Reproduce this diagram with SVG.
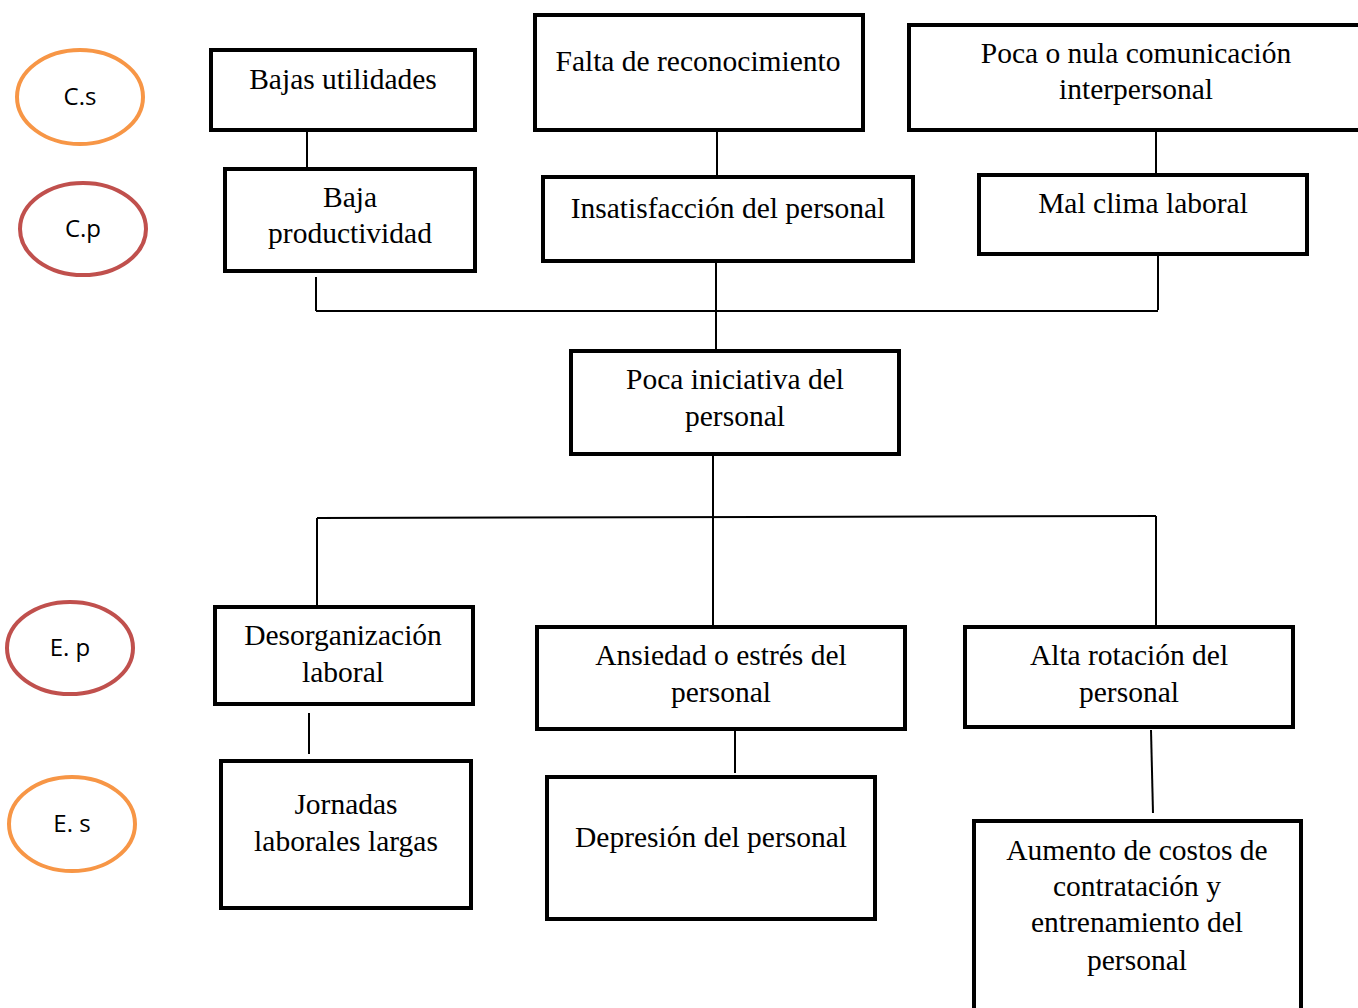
<svg xmlns="http://www.w3.org/2000/svg" width="1358" height="1008" viewBox="0 0 1358 1008">
<style>
.box{fill:#fff;stroke:#000;stroke-width:4}
.t{font-family:"Liberation Serif","Times New Roman",serif;font-size:29.5px;fill:#000;text-anchor:middle}
.lab{font-family:"Open Sans","Liberation Sans",sans-serif;font-size:24px;fill:#000;text-anchor:middle}
.or{fill:#fff;stroke:#F79646;stroke-width:4}
.rd{fill:#fff;stroke:#C0504D;stroke-width:4}
.c{stroke:#000;stroke-width:2;fill:none}
</style>
<rect width="1358" height="1008" fill="#fff"/>
<g id="connectors">
<line class="c" x1="307" y1="130" x2="307" y2="168"/>
<line class="c" x1="717" y1="130" x2="717" y2="176"/>
<line class="c" x1="1156" y1="128" x2="1156" y2="174"/>
<line class="c" x1="316" y1="277" x2="316" y2="311"/>
<line class="c" x1="1158" y1="255" x2="1158" y2="310"/>
<line class="c" x1="316" y1="311" x2="1158" y2="311"/>
<line class="c" x1="716" y1="262" x2="716" y2="350"/>
<line class="c" x1="713" y1="455" x2="713" y2="626"/>
<line class="c" x1="317" y1="518" x2="1156" y2="516"/>
<line class="c" x1="317" y1="518" x2="317" y2="606"/>
<line class="c" x1="1156" y1="516" x2="1156" y2="626"/>
<line class="c" x1="309" y1="713" x2="309" y2="754"/>
<line class="c" x1="735" y1="730" x2="735" y2="773"/>
<line class="c" x1="1151" y1="730" x2="1153" y2="813"/>
</g>
<g id="cs"><ellipse class="or" cx="80" cy="97" rx="63" ry="47"/><text class="lab" x="80" y="105">C.s</text></g>
<g id="cp"><ellipse class="rd" cx="83" cy="229" rx="63" ry="46"/><text class="lab" x="83" y="237">C.p</text></g>
<g id="ep"><ellipse class="rd" cx="70" cy="648" rx="63" ry="46"/><text class="lab" x="70" y="656">E. p</text></g>
<g id="es"><ellipse class="or" cx="72" cy="824" rx="63" ry="47"/><text class="lab" x="72" y="832">E. s</text></g>
<g id="n1"><rect class="box" x="211" y="50" width="264" height="80"/><text class="t" x="343" y="89">Bajas utilidades</text></g>
<g id="n2"><rect class="box" x="535" y="15" width="328" height="115"/><text class="t" x="698" y="71">Falta de reconocimiento</text></g>
<g id="n3"><rect class="box" x="909" y="25" width="460" height="105"/><text class="t" x="1136" y="63">Poca o nula comunicación</text><text class="t" x="1136" y="99">interpersonal</text></g>
<g id="n4"><rect class="box" x="225" y="169" width="250" height="102"/><text class="t" x="350" y="207">Baja</text><text class="t" x="350" y="243">productividad</text></g>
<g id="n5"><rect class="box" x="543" y="177" width="370" height="84"/><text class="t" x="728" y="218">Insatisfacción del personal</text></g>
<g id="n6"><rect class="box" x="979" y="175" width="328" height="79"/><text class="t" x="1143" y="213">Mal clima laboral</text></g>
<g id="n7"><rect class="box" x="571" y="351" width="328" height="103"/><text class="t" x="735" y="389">Poca iniciativa del</text><text class="t" x="735" y="426">personal</text></g>
<g id="n8"><rect class="box" x="215" y="607" width="258" height="97"/><text class="t" x="343" y="645">Desorganización</text><text class="t" x="343" y="682">laboral</text></g>
<g id="n9"><rect class="box" x="537" y="627" width="368" height="102"/><text class="t" x="721" y="665">Ansiedad o estrés del</text><text class="t" x="721" y="702">personal</text></g>
<g id="n10"><rect class="box" x="965" y="627" width="328" height="100"/><text class="t" x="1129" y="665">Alta rotación del</text><text class="t" x="1129" y="702">personal</text></g>
<g id="n11"><rect class="box" x="221" y="761" width="250" height="147"/><text class="t" x="346" y="814">Jornadas</text><text class="t" x="346" y="851">laborales largas</text></g>
<g id="n12"><rect class="box" x="547" y="777" width="328" height="142"/><text class="t" x="711" y="847">Depresión del personal</text></g>
<g id="n13"><rect class="box" x="974" y="821" width="327" height="200"/><text class="t" x="1137" y="860">Aumento de costos de</text><text class="t" x="1137" y="896">contratación y</text><text class="t" x="1137" y="932">entrenamiento del</text><text class="t" x="1137" y="970">personal</text></g>
</svg>
